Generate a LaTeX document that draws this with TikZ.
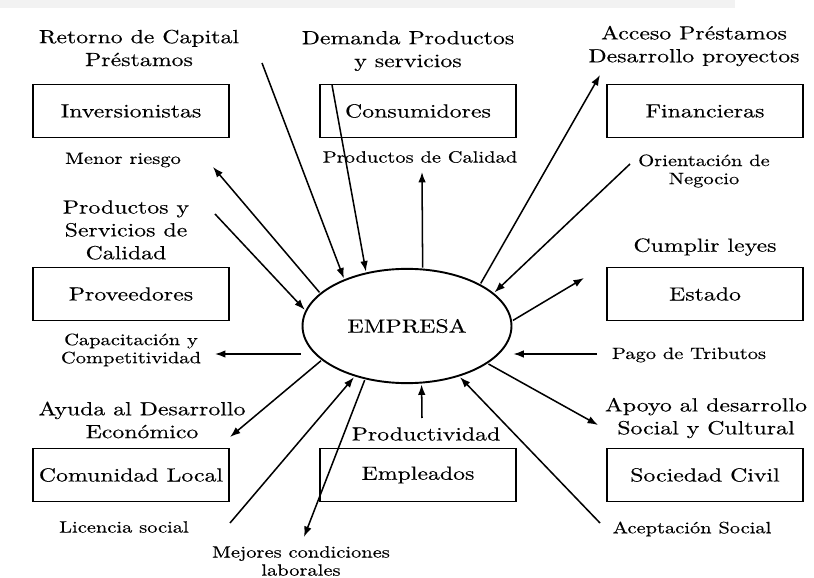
\documentclass[tikz,border=0pt]{standalone}
\usepackage{fontspec}
\setmainfont{lmroman10-regular}[Extension=.otf, FakeStretch=1.25, FakeBold=0.3]
\usetikzlibrary{arrows.meta, shapes.geometric}

\begin{document}
\begin{tikzpicture}[x=0.525pt, y=-0.525pt]
        % Define styles for the boxes, the firm and the labels
        \tikzset{
            actor_box/.style={draw, rectangle, line width=0.7pt, minimum width=103pt, minimum height=28pt, inner sep=0pt},
            firm_oval/.style={draw, ellipse, line width=1pt, minimum width=109.7pt, minimum height=60pt, inner sep=0pt, outer sep=1pt},
            lbl_big/.style={align=center, inner sep=0pt, font=\fontsize{10}{12}\selectfont},
            lbl_small/.style={align=center, inner sep=0pt, font=\fontsize{8.6}{9.5}\selectfont},
            flow/.style={line width=0.8pt, -{Latex[length=5.5pt, width=4pt]}}
        }

        \useasboundingbox (0,0) rectangle (814,578);
        \fill[gray!10] (0,0) rectangle (735,8);

        % Central firm
        \node[firm_oval] (emp) at (407,326) {EMPRESA};

        % Stakeholder boxes
        \node[actor_box] (inv)  at (131,111) {Inversionistas};
        \node[actor_box] (cons) at (418,111) {Consumidores};
        \node[actor_box] (fin)  at (705,111) {Financieras};
        \node[actor_box] (prov) at (131,294) {Proveedores};
        \node[actor_box] (est)  at (705,294) {Estado};
        \node[actor_box] (com)  at (131,475) {Comunidad Local};
        \node[actor_box] (empl) at (418,475) {Empleados};
        \node[actor_box] (soc)  at (705,475) {Sociedad Civil};

        % Labels above the boxes
        \node[lbl_big] (t_ret)  at (139,48)  {Retorno de Capital\\Préstamos};
        \node[lbl_big] (t_dem)  at (408,51)  {Demanda Productos\\y servicios};
        \node[lbl_big] (t_acc)  at (694,46)  {Acceso Préstamos\\Desarrollo proyectos};
        \node[lbl_big] (t_pys)  at (126,230) {Productos y\\Servicios de\\Calidad};
        \node[lbl_big] (t_cum)  at (705,247) {Cumplir leyes};
        \node[lbl_big] (t_ayu)  at (142,420) {Ayuda al Desarrollo\\Económico};
        \node[lbl_big] (t_prd)  at (426,434) {Productividad};
        \node[lbl_big] (t_apo)  at (706,418) {Apoyo al desarrollo\\Social y Cultural};

        % Labels below the boxes
        \node[lbl_small] (t_men) at (123,160) {Menor riesgo};
        \node[lbl_small] (t_pdc) at (420,157) {Productos de Calidad};
        \node[lbl_small] (t_ori) at (704,171) {Orientación de\\Negocio};
        \node[lbl_small] (t_cap) at (131,350) {Capacitación y\\Competitividad};
        \node[lbl_small] (t_pag) at (689,355) {Pago de Tributos};
        \node[lbl_small] (t_lic) at (124,527) {Licencia social};
        \node[lbl_small] (t_mej) at (301,561) {Mejores condiciones\\laborales};
        \node[lbl_small] (t_ace) at (692,529) {Aceptación Social};

        % Free ends of the arrows
        \coordinate (a_ret) at (262,63);
        \coordinate (a_dem) at (332,85);
        \coordinate (a_men) at (213,167);
        \coordinate (a_pys) at (215,214);
        \coordinate (a_pdc) at (422,172);
        \coordinate (a_acc) at (600,75);
        \coordinate (a_ori) at (630,164);
        \coordinate (a_cum) at (584,278);
        \coordinate (a_cap) at (215,354);
        \coordinate (a_pag) at (597,354);
        \coordinate (a_ayu) at (230,437);
        \coordinate (a_prd) at (422,418);
        \coordinate (a_apo) at (598,425);
        \coordinate (a_lic) at (230,523);
        \coordinate (a_mej) at (304,537);
        \coordinate (a_ace) at (600,523);

        % Arrows into the firm
        \draw[flow] (a_ret) -- (emp.143);
        \draw[flow] (a_dem) -- (emp.127.8);
        \draw[flow] (a_pys) -- (emp.171.3);
        \draw[flow] (a_ori) -- (emp.21.8);
        \draw[flow] (a_pag) -- (a_pag -| emp.east);
        \draw[flow] (a_prd) -- (emp.284.5);
        \draw[flow] (a_lic) -- (emp.224.5);
        \draw[flow] (a_ace) -- (emp.316);

        % Arrows out of the firm
        \draw[flow] (emp.159.2) -- (a_men);
        \draw[flow] (emp.75.5)  -- (a_pdc);
        \draw[flow] (emp.30.2)  -- (a_acc);
        \draw[flow] (emp.3.3)   -- (a_cum);
        \draw[flow] (a_cap -| emp.west) -- (a_cap);
        \draw[flow] (emp.202.6) -- (a_ayu);
        \draw[flow] (emp.335)   -- (a_apo);
        \draw[flow] (emp.232.2) -- (a_mej);

    \end{tikzpicture}
\end{document}
